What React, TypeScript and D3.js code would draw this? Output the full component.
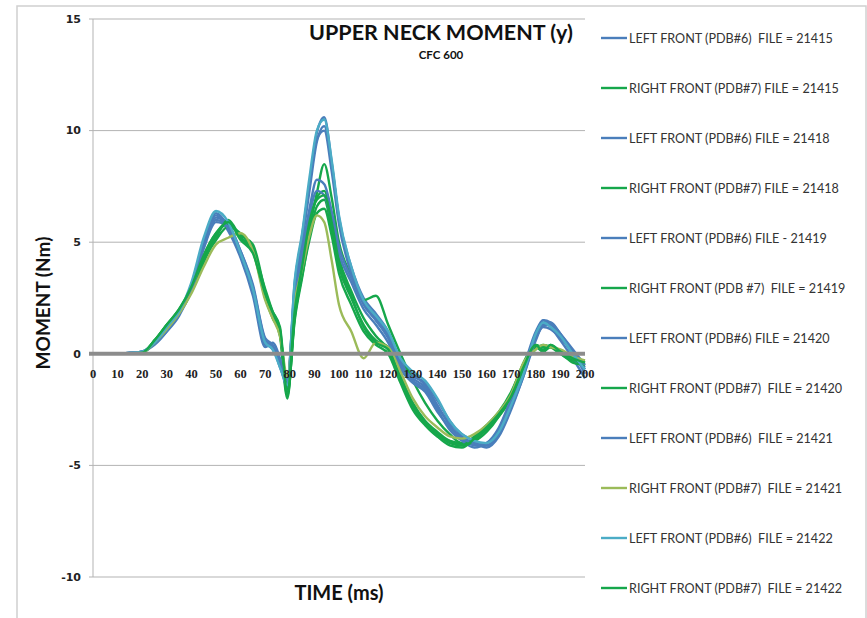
import React from "react";
import * as d3 from "d3";

const TIME = [0, 5, 10, 15, 20, 25, 30, 35, 40, 45, 50, 55, 60, 65, 70, 73, 76, 79, 82, 85, 88, 91, 94, 97, 100, 105, 110, 115, 120, 125, 130, 135, 140, 145, 150, 155, 160, 165, 170, 175, 180, 183, 186, 190, 195, 200];

const L21415 = [0, 0, 0, 0.05, 0.1, 0.5, 1.1, 1.8, 3.0, 5.0, 6.3, 5.7, 4.4, 2.8, 0.4, 0.3, -0.6, -1.3, 3.2, 5.2, 7.6, 9.9, 10.6, 8.6, 6.0, 3.8, 2.3, 1.6, 0.9, -0.4, -1.0, -1.3, -2.1, -3.0, -3.7, -4.0, -4.1, -3.6, -2.4, -1.0, 0.8, 1.5, 1.4, 0.9, 0.1, -0.9];
const R21415 = [0, 0, 0, 0, 0.05, 0.6, 1.3, 1.9, 2.9, 4.3, 5.3, 5.9, 5.2, 4.8, 2.6, 1.8, 1.0, -1.9, 1.6, 3.6, 5.8, 7.0, 7.3, 6.0, 4.3, 2.8, 1.6, 0.8, 0.2, -1.0, -2.2, -3.0, -3.5, -3.9, -4.0, -3.8, -3.4, -2.8, -2.0, -0.6, 0.3, 0.2, 0.4, 0.1, -0.2, -0.4];
const L21418 = [0, 0, 0, 0.05, 0.1, 0.45, 1.0, 1.7, 2.9, 4.8, 6.1, 5.8, 4.6, 3.0, 0.6, 0.2, -0.4, -1.1, 2.9, 5.0, 7.3, 9.5, 10.2, 8.5, 6.1, 3.9, 2.5, 1.8, 1.0, -0.3, -0.9, -1.4, -2.3, -3.2, -3.8, -4.1, -4.0, -3.4, -2.2, -0.8, 0.9, 1.3, 1.3, 0.8, 0.0, -0.6];
const R21418 = [0, 0, 0, 0, 0.05, 0.5, 1.2, 1.9, 2.8, 4.4, 5.4, 5.8, 5.3, 4.9, 2.8, 1.7, 0.8, -2.0, 1.8, 3.8, 5.6, 7.2, 8.5, 7.0, 5.0, 3.5, 2.4, 2.6, 1.3, 0.0, -1.2, -2.2, -3.0, -3.6, -4.0, -3.9, -3.5, -2.8, -1.8, -0.4, 0.4, 0.3, 0.3, 0.0, -0.3, -0.5];
const L21419 = [0, 0, 0, 0.05, 0.1, 0.5, 1.1, 1.8, 3.1, 5.0, 6.2, 5.5, 4.3, 2.6, 0.3, 0.5, -0.2, -1.4, 3.0, 5.3, 7.6, 9.6, 10.0, 8.2, 5.8, 3.6, 2.2, 1.5, 0.7, -0.5, -1.1, -1.5, -2.5, -3.4, -3.9, -4.2, -4.0, -3.3, -2.0, -0.6, 1.0, 1.5, 1.2, 0.6, -0.2, -1.1];
const R21419 = [0, 0, 0, 0, 0.05, 0.6, 1.3, 2.0, 2.9, 4.2, 5.1, 5.7, 5.4, 4.7, 2.9, 1.9, 1.1, -1.8, 1.5, 3.4, 5.3, 6.6, 6.9, 5.6, 3.9, 2.5, 1.3, 0.6, 0.3, -1.1, -2.3, -3.1, -3.6, -4.0, -4.1, -3.7, -3.2, -2.6, -1.7, -0.5, 0.2, 0.4, 0.3, 0.0, -0.3, -0.3];
const L21420 = [0, 0, 0, 0.03, 0.08, 0.5, 1.1, 1.9, 3.0, 4.8, 6.0, 5.6, 4.4, 2.8, 0.6, 0.3, -0.5, -1.5, 2.6, 4.6, 6.5, 7.8, 7.6, 6.4, 4.8, 3.4, 2.3, 1.5, 0.8, -0.6, -1.2, -1.6, -2.4, -3.1, -3.6, -3.9, -4.1, -3.6, -2.3, -0.9, 0.7, 1.2, 1.1, 0.7, 0.1, -0.7];
const R21420 = [0, 0, 0, 0, 0.05, 0.5, 1.2, 1.9, 2.8, 4.1, 5.2, 6.0, 5.2, 4.6, 2.5, 1.6, 0.9, -1.6, 1.7, 3.5, 5.1, 6.3, 6.5, 5.3, 3.6, 2.2, 1.0, 0.4, 0.0, -1.3, -2.5, -3.2, -3.7, -3.9, -4.1, -3.9, -3.3, -2.7, -1.9, -0.7, 0.3, 0.1, 0.3, 0.1, -0.4, -0.5];
const L21421 = [0, 0, 0, 0.03, 0.1, 0.4, 1.0, 1.8, 2.8, 4.7, 5.9, 5.7, 4.6, 3.1, 0.7, 0.4, -0.3, -1.2, 2.4, 4.3, 6.2, 7.3, 7.1, 6.0, 4.5, 3.2, 2.0, 1.3, 0.5, -0.7, -1.3, -1.7, -2.6, -3.3, -3.8, -4.0, -4.2, -3.7, -2.5, -1.0, 0.6, 1.3, 1.4, 0.9, 0.2, -0.5];
const R21421 = [0, 0, 0, 0, 0.05, 0.5, 1.1, 1.8, 2.7, 3.9, 4.9, 5.2, 5.4, 4.6, 2.4, 1.6, 0.8, -1.0, 2.3, 3.8, 5.3, 6.2, 5.9, 4.2, 2.2, 1.0, -0.2, 0.5, 0.3, -0.8, -2.0, -2.8, -3.3, -3.7, -3.8, -3.6, -3.2, -2.6, -1.8, -0.4, 0.2, 0.4, 0.3, 0.2, -0.1, -0.3];
const L21422 = [0, 0, 0, 0.05, 0.1, 0.5, 1.2, 1.9, 3.2, 5.2, 6.4, 5.9, 4.5, 2.9, 0.5, 0.2, -0.6, -1.4, 3.3, 5.4, 7.9, 10.0, 10.5, 8.7, 6.2, 3.9, 2.4, 1.7, 1.0, -0.2, -0.8, -1.2, -2.0, -3.0, -3.6, -3.9, -4.0, -3.5, -2.3, -0.9, 0.9, 1.4, 1.2, 0.8, 0.0, -0.7];
const R21422 = [0, 0, 0, 0, 0.05, 0.6, 1.3, 2.0, 3.0, 4.4, 5.4, 5.9, 5.1, 4.5, 2.7, 1.9, 1.2, -1.7, 1.9, 3.9, 5.9, 6.9, 7.1, 5.9, 4.1, 2.6, 1.2, 0.5, 0.2, -1.2, -2.4, -3.1, -3.7, -4.1, -4.2, -3.8, -3.3, -2.7, -1.9, -0.6, 0.4, 0.1, 0.4, 0.1, -0.2, -0.4];

const SERIES_NAMES = [
  "LEFT FRONT (PDB#6)  FILE = 21415",
  "RIGHT FRONT (PDB#7) FILE = 21415",
  "LEFT FRONT (PDB#6) FILE = 21418",
  "RIGHT FRONT (PDB#7) FILE = 21418",
  "LEFT FRONT (PDB#6) FILE - 21419",
  "RIGHT FRONT (PDB #7)  FILE = 21419",
  "LEFT FRONT (PDB#6) FILE = 21420",
  "RIGHT FRONT (PDB#7)  FILE = 21420",
  "LEFT FRONT (PDB#6)  FILE = 21421",
  "RIGHT FRONT (PDB#7)  FILE = 21421",
  "LEFT FRONT (PDB#6)  FILE = 21422",
  "RIGHT FRONT (PDB#7)  FILE = 21422",
];
const SERIES_VALUES = [L21415, R21415, L21418, R21418, L21419, R21419, L21420, R21420, L21421, R21421, L21422, R21422];
const BLUE = "#4a7ebb";
const GREEN = "#16a74b";
const SERIES_COLORS = [BLUE, GREEN, BLUE, GREEN, BLUE, GREEN, BLUE, GREEN, BLUE, "#9bbb59", "#4bacc6", GREEN];

const X_TICKS = [0, 10, 20, 30, 40, 50, 60, 70, 80, 90, 100, 110, 120, 130, 140, 150, 160, 170, 180, 190, 200];
const Y_TICKS = [15, 10, 5, 0, -5, -10];

export default function App() {
  const W = 867, H = 618;
  const x = d3.scaleLinear().domain([0, 200]).range([93, 585]);
  const y = d3.scaleLinear().domain([-10, 15]).range([577, 19]);
  const line = d3
    .line<[number, number]>()
    .x((d) => x(d[0]))
    .y((d) => y(d[1]))
    .curve(d3.curveMonotoneX);

  const legendY0 = 38, legendStep = 50;
  const sans = "Lato, 'Open Sans', sans-serif";

  return (
    <svg width={W} height={H} style={{ position: "absolute", left: 0, top: 0, background: "#fff" }}>
      <rect x={17} y={6} width={849} height={640} fill="#fff" stroke="#d0d0d0" strokeWidth={1.5} />
      {/* grid */}
      {Y_TICKS.filter((v) => v !== 0).map((v) => (
        <line key={v} x1={89} x2={585} y1={y(v)} y2={y(v)} stroke="#b3b3b3" strokeWidth={1} />
      ))}
      <line x1={93} x2={93} y1={y(15)} y2={y(-10)} stroke="#b3b3b3" strokeWidth={1} />
      {Y_TICKS.map((v) => (
        <text key={v} x={81} y={y(v)} dy="0.35em" textAnchor="end" fontFamily="'DejaVu Sans', sans-serif" fontWeight="bold" fontSize={11} fill="#222">
          {v}
        </text>
      ))}
      {/* series */}
      {SERIES_VALUES.map((vals, i) => (
        <path
          key={i}
          d={line(TIME.map((t, j) => [t, vals[j]] as [number, number])) || ""}
          fill="none"
          stroke={SERIES_COLORS[i]}
          strokeWidth={2.4}
          strokeLinejoin="round"
        />
      ))}
      {/* zero line */}
      <line x1={89} x2={585} y1={y(0)} y2={y(0)} stroke="#8c8c8c" strokeWidth={4} />
      {X_TICKS.map((t) => (
        <text key={t} x={x(t)} y={378} textAnchor="middle" fontFamily="'Liberation Serif', serif" fontWeight="bold" fontSize={12.5} fill="#222">
          {t}
        </text>
      ))}
      {/* titles */}
      <text x={441} y={40} textAnchor="middle" fontFamily={sans} fontWeight="bold" fontSize={21.5} fill="#111">
        UPPER NECK MOMENT (y)
      </text>
      <text x={441} y={59} textAnchor="middle" fontFamily={sans} fontWeight="bold" fontSize={11.5} fill="#111">
        CFC 600
      </text>
      <text transform={`translate(50,${303}) rotate(-90)`} textAnchor="middle" fontFamily={sans} fontWeight="bold" fontSize={19} fill="#111">
        MOMENT (Nm)
      </text>
      <text x={339} y={600} textAnchor="middle" fontFamily={sans} fontWeight="bold" fontSize={20} fill="#111">
        TIME (ms)
      </text>
      {/* legend */}
      {SERIES_NAMES.map((name, i) => {
        const ly = legendY0 + i * legendStep;
        return (
          <g key={name}>
            <line x1={601} x2={627} y1={ly} y2={ly} stroke={SERIES_COLORS[i]} strokeWidth={2.4} />
            <text x={629} y={ly} dy="0.36em" fontFamily={sans} fontSize={12.6} fill="#333" style={{ whiteSpace: "pre" }}>
              {name}
            </text>
          </g>
        );
      })}
    </svg>
  );
}
